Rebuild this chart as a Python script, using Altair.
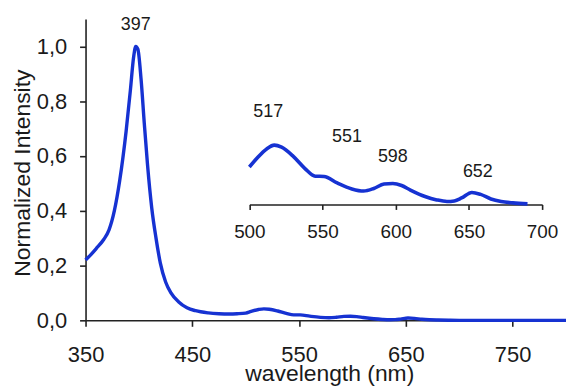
import altair as alt
import pandas as pd

# Emission spectrum (normalized to the 397 nm maximum)
wavelength = [350, 355, 360, 367, 372, 377, 382, 388, 392, 395, 397, 399, 402, 405,
              408, 412, 416, 420, 425, 430, 437, 445, 453, 465, 475, 485, 492, 500,
              505, 512, 517, 522, 530, 538, 545, 551, 560, 570, 578, 585, 592, 598,
              604, 610, 620, 628, 635, 640, 645, 652, 658, 665, 672, 680, 690, 700,
              750, 800]
intensity = [0.220, 0.240, 0.262, 0.295, 0.330, 0.400, 0.510, 0.690, 0.840, 0.960,
             1.000, 0.990, 0.880, 0.720, 0.570, 0.410, 0.300, 0.210, 0.140, 0.100,
             0.068, 0.046, 0.035, 0.027, 0.024, 0.023, 0.024, 0.0265, 0.0325, 0.0395,
             0.0420, 0.0405, 0.0340, 0.0254, 0.0200, 0.0198, 0.0152, 0.0110, 0.0095,
             0.0113, 0.0145, 0.0148, 0.0134, 0.0102, 0.0056, 0.0032, 0.0021, 0.0025,
             0.0046, 0.0085, 0.0071, 0.0039, 0.0021, 0.0011, 0.0004, 0.0, 0.0, 0.0]

peak_wavelengths = [397, 517, 551, 598, 652]

main_ticks = [350, 450, 550, 650, 750]
main_y_ticks = [0.0, 0.2, 0.4, 0.6, 0.8, 1.0]
inset_ticks = [500, 550, 600, 650, 700]

spec = pd.DataFrame({"wl": wavelength, "val": intensity})
lookup = dict(zip(wavelength, intensity))
peaks = pd.DataFrame({
    "wl": peak_wavelengths,
    "val": [lookup[w] for w in peak_wavelengths],
    "label": [str(w) for w in peak_wavelengths],
})

BLUE = "#1632d2"
INK = "#1a1a1a"
FONT = "Liberation Sans"

# label offsets (pixels) relative to the curve point of each peak
label_offsets = {397: (0, -21.5), 517: (-6, -33), 551: (23, -40), 598: (0, -27), 652: (6, -21)}


def peak_label(w, size):
    dx, dy = label_offsets[w]
    return (
        alt.Chart(peaks)
        .transform_filter(f"datum.wl == {w}")
        .mark_text(dx=dx, dy=dy, fontSize=size, font=FONT, color=INK, baseline="middle")
        .encode(x="wl:Q", y="val:Q", text="label:N")
    )


# ---- main spectrum ----
main_x = alt.X(
    "wl:Q",
    scale=alt.Scale(domain=[350, 800], nice=False, zero=False),
    axis=alt.Axis(
        values=main_ticks, title="wavelength (nm)", labelFontSize=22, tickSize=6,
        labelPadding=18, labelFlush=False, labelOverlap=False,
        titleFontSize=23, titleFontWeight="normal",
        titleX=245, titleY=60, titleBaseline="alphabetic", titleColor=INK,
    ),
)
main_y = alt.Y(
    "val:Q",
    scale=alt.Scale(domain=[0, 1.1], nice=False),
    axis=alt.Axis(
        values=main_y_ticks, labelExpr="replace(format(datum.value, '.1f'), '.', ',')",
        title="Normalized Intensity", labelFontSize=22, tickSize=6, labelPadding=13,
        labelFlush=False, labelOverlap=False,
        titleFontSize=23, titleFontWeight="normal", titleX=-63, titleY=154.5,
        titleBaseline="middle", titleColor=INK,
    ),
)
main_line = alt.Chart(spec).mark_line(
    color=BLUE, strokeWidth=3.4, interpolate="monotone"
).encode(x=main_x, y=main_y)
main = alt.layer(main_line, peak_label(397, 18))

# ---- inset: 500-700 nm magnified ----
inset_x = alt.X(
    "wl:Q",
    scale=alt.Scale(domain=[500, 700], range=[164.7, 459], nice=False, zero=False),
    axis=alt.Axis(
        values=inset_ticks, orient="bottom", offset=-116.5, title=None,
        labelFontSize=19, tickSize=5, labelPadding=13, labelFlush=False,
        labelOverlap=False,
    ),
)
inset_y = alt.Y(
    "val:Q",
    scale=alt.Scale(domain=[0, 0.05], range=[186.5, 115.5], nice=False),
    axis=None,
)
inset_line = (
    alt.Chart(spec)
    .transform_filter("datum.wl >= 500 && datum.wl <= 690")
    .mark_line(color=BLUE, strokeWidth=3.6, interpolate="monotone")
    .encode(x=inset_x, y=inset_y)
)
inset = alt.layer(inset_line, *[peak_label(w, 18) for w in peak_wavelengths[1:]])

chart = (
    alt.layer(main, inset)
    .resolve_scale(x="independent", y="independent")
    .properties(
        width=483, height=303,
        autosize=alt.AutoSizeParams(type="none"),
        padding={"left": 86, "top": 18, "right": 0, "bottom": 66},
        background="white",
    )
    .configure_view(stroke=None)
    .configure_axis(
        grid=False, domainColor="#222222", domainWidth=1.6, tickColor="#222222",
        tickWidth=1.6, labelColor=INK, labelFont=FONT, titleFont=FONT,
    )
)

chart.save("out.html", embed_options={"renderer": "svg", "actions": False})
